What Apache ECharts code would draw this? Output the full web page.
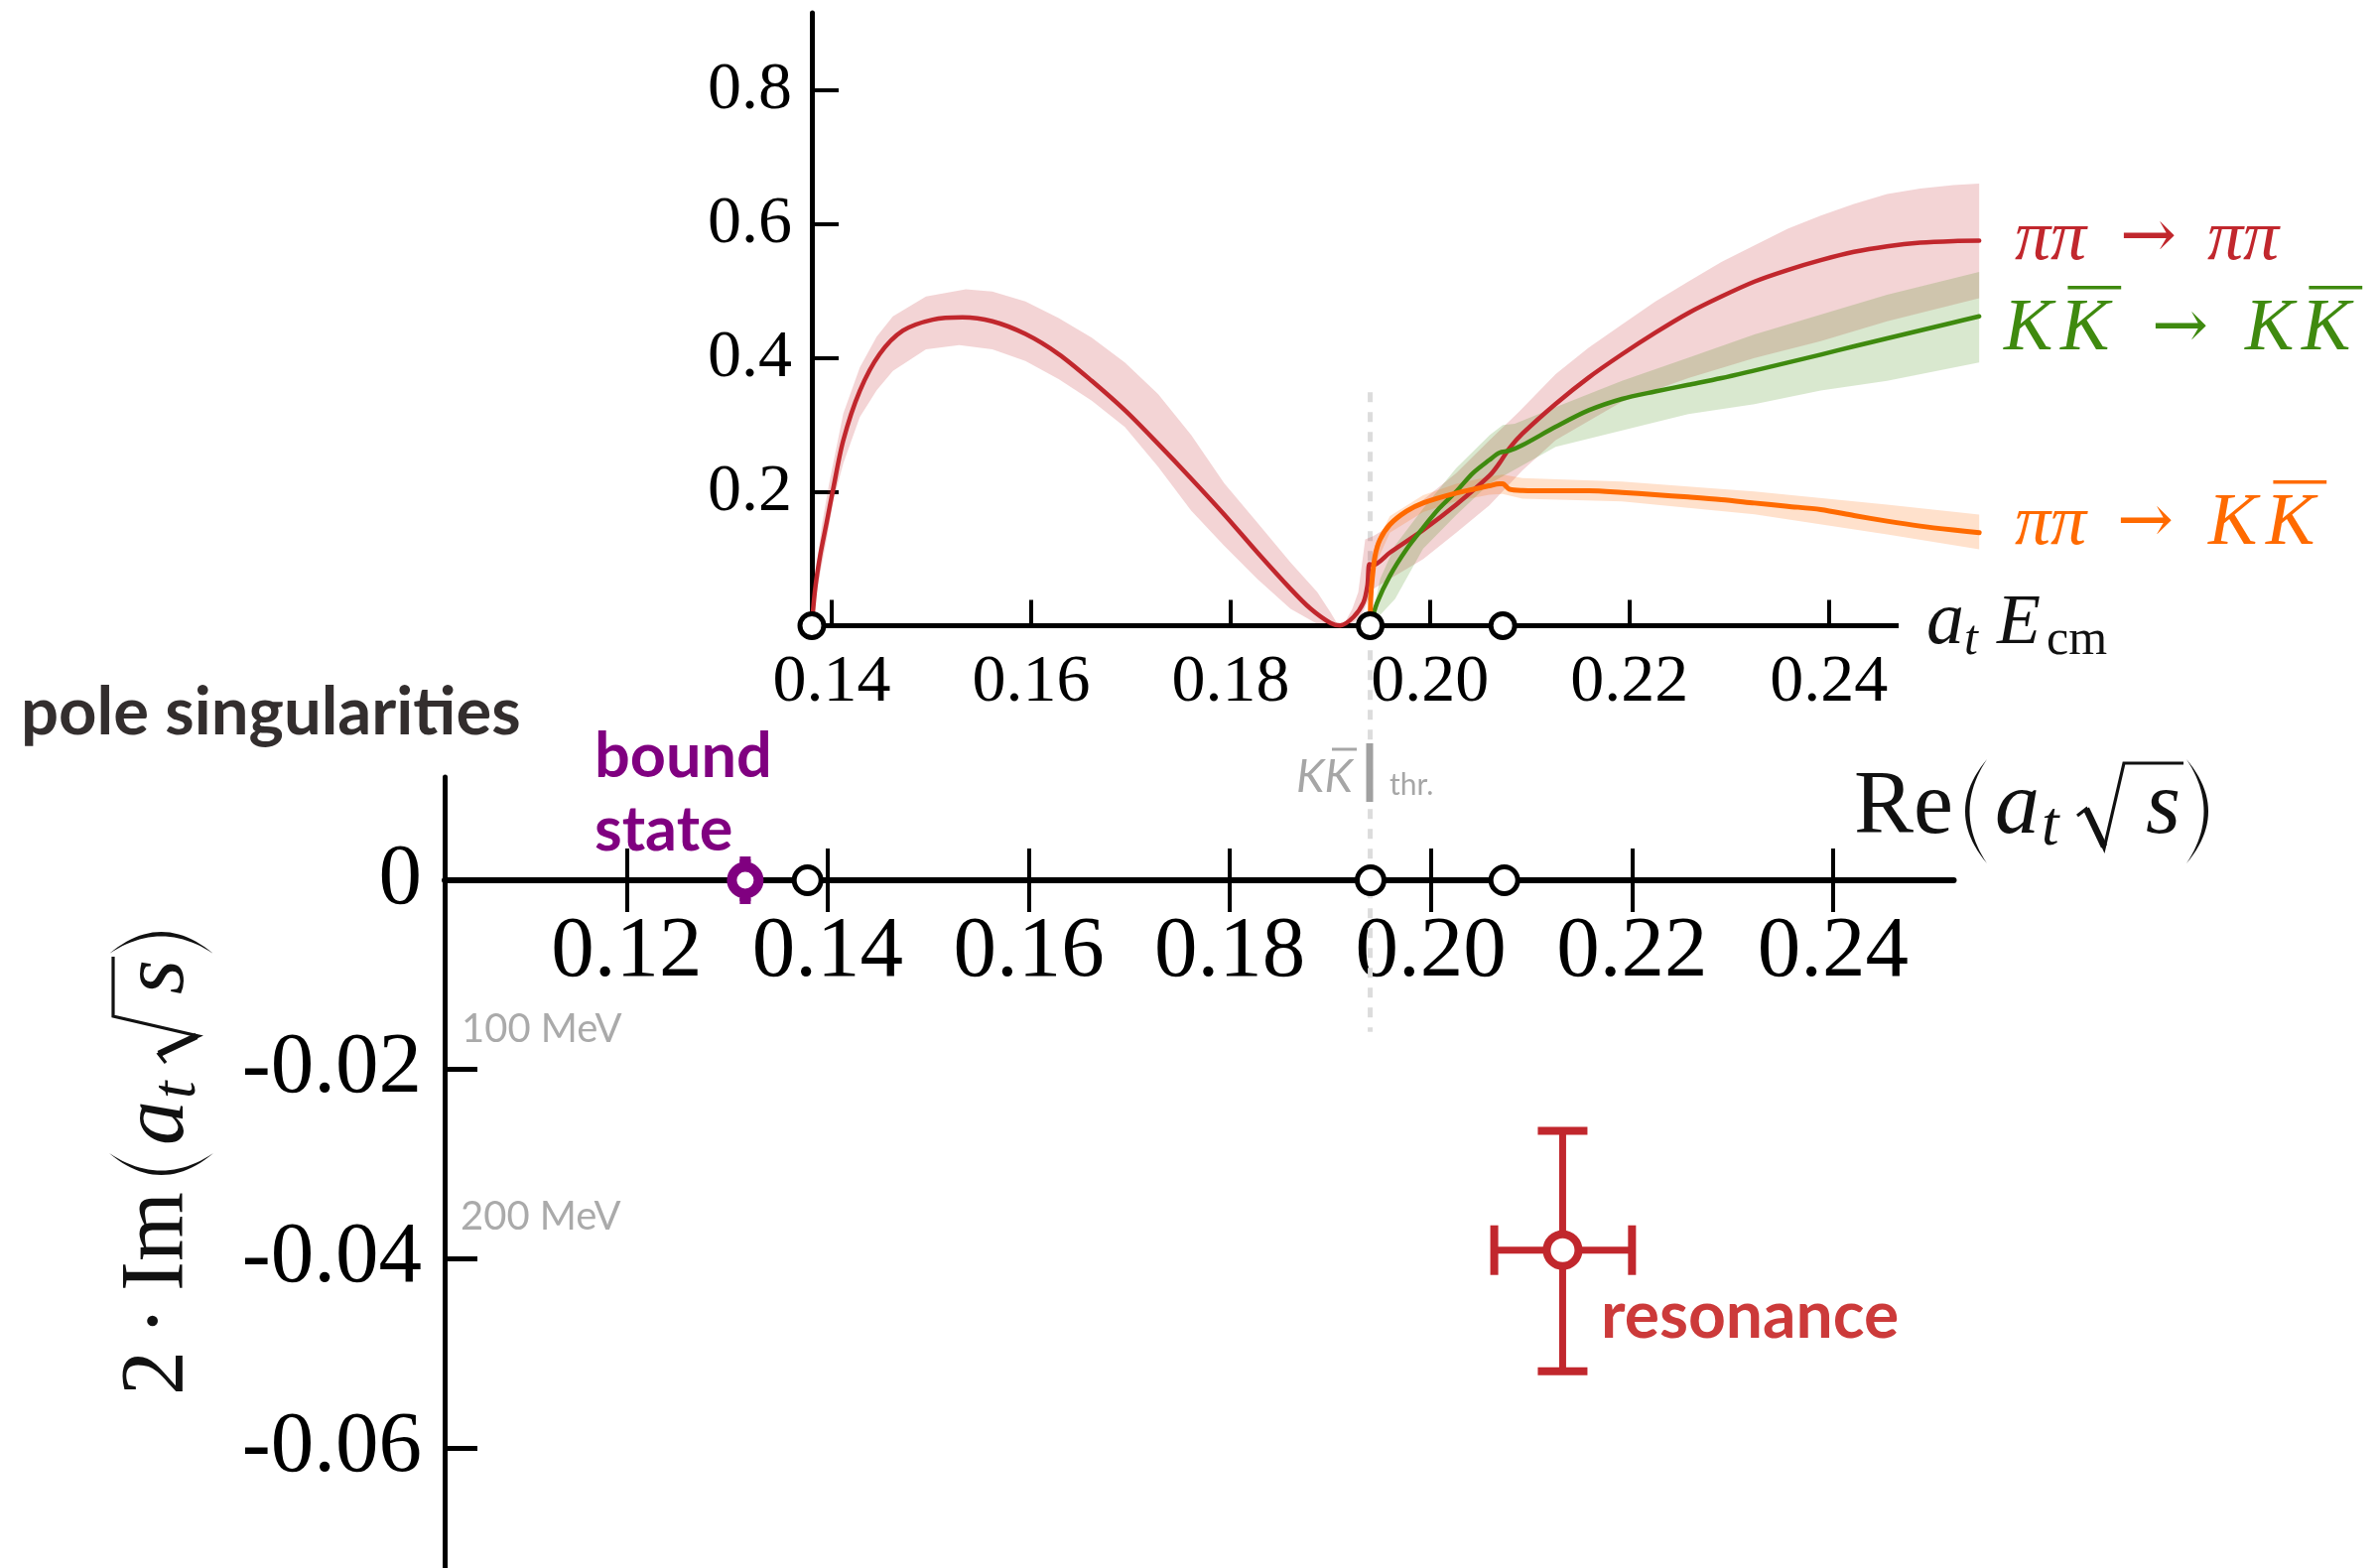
<!DOCTYPE html>
<html>
<head>
<meta charset="utf-8">
<script src="https://cdn.jsdelivr.net/npm/echarts@6/dist/echarts.min.js"></script>
<style>
  html, body { margin: 0; padding: 0; background: #ffffff; }
  #chart { width: 2398px; height: 1580px; }
</style>
</head>
<body>
<div id="chart"></div>
<script>
// ---------------- data ----------------
// Scattering thresholds in lattice units (ππ, KK̄, ηη)
const thresholds = [0.1380, 0.1940, 0.2073];
const kkThreshold = 0.1940;

// Axis ticks
const topXTicks = [0.14, 0.16, 0.18, 0.20, 0.22, 0.24];
const topYTicks = [0.2, 0.4, 0.6, 0.8];
const poleXTicks = [0.12, 0.14, 0.16, 0.18, 0.20, 0.22, 0.24];
const poleYTicks = [-0.06, -0.04, -0.02, 0];

// ππ → ππ : central curve and uncertainty band edges
const pipiCurve = [
  [0.13799, 0.000], [0.13833, 0.055], [0.13882, 0.104], [0.13948, 0.154], [0.14008, 0.200],
  [0.14115, 0.277], [0.14281, 0.351], [0.14480, 0.406], [0.14713, 0.441], [0.15012, 0.4575],
  [0.15310, 0.461], [0.15610, 0.455], [0.15942, 0.436], [0.16275, 0.406], [0.16607, 0.366],
  [0.16940, 0.322], [0.17272, 0.272], [0.17604, 0.220], [0.17936, 0.1662], [0.18269, 0.1094],
  [0.18601, 0.0551], [0.18801, 0.0255], [0.19000, 0.0042], [0.19100, 0.0005], [0.19232, 0.013],
  [0.19332, 0.0346], [0.19372, 0.060], [0.19392, 0.0921], [0.19426, 0.0906], [0.19598, 0.1094],
  [0.19930, 0.143], [0.20263, 0.181], [0.20595, 0.224], [0.20695, 0.2427], [0.20795, 0.265],
  [0.20927, 0.2871], [0.21260, 0.3316], [0.21592, 0.3711], [0.21925, 0.4057], [0.22257, 0.4378],
  [0.22590, 0.4674], [0.22922, 0.4921], [0.23254, 0.5144], [0.23587, 0.5317], [0.23919, 0.5464],
  [0.24252, 0.5588], [0.24584, 0.5671], [0.24916, 0.5726], [0.25249, 0.5750], [0.25508, 0.5755]
];
const pipiUpper = [
  [0.13799, 0], [0.13833, 0.07], [0.1390, 0.15], [0.1397, 0.21], [0.14115, 0.317], [0.14281, 0.386],
  [0.14450, 0.432], [0.14613, 0.4625], [0.14945, 0.492], [0.15344, 0.503], [0.1561, 0.4995], [0.15942, 0.4847],
  [0.16275, 0.460], [0.16607, 0.4304], [0.16939, 0.3933], [0.17272, 0.3464], [0.17604, 0.285],
  [0.17936, 0.213], [0.18269, 0.1539], [0.18601, 0.0946], [0.18868, 0.0504], [0.1900, 0.0205],
  [0.1907, 0.003], [0.1915, 0.006], [0.1922, 0.0254], [0.1928, 0.05], [0.1935, 0.129],
  [0.1943, 0.134], [0.19598, 0.149], [0.1993, 0.188], [0.20263, 0.228], [0.20595, 0.277],
  [0.20894, 0.320], [0.2126, 0.376], [0.21592, 0.4156], [0.21925, 0.4502], [0.22257, 0.4844],
  [0.2259, 0.5144], [0.22922, 0.5437], [0.23254, 0.5686], [0.23587, 0.5933], [0.23919, 0.6131],
  [0.24252, 0.6304], [0.24584, 0.6452], [0.24916, 0.6536], [0.25249, 0.6585], [0.25508, 0.661]
];
const pipiLower = [
  [0.13799, 0], [0.1386, 0.06], [0.1395, 0.13], [0.1402, 0.19], [0.14115, 0.2427], [0.14281, 0.3119],
  [0.14450, 0.352], [0.14613, 0.381], [0.14945, 0.4131], [0.15278, 0.4195], [0.1561, 0.4131], [0.15942, 0.3958],
  [0.16275, 0.3686], [0.16607, 0.3365], [0.16939, 0.297], [0.17272, 0.2378], [0.17604, 0.172],
  [0.17936, 0.1193], [0.18269, 0.0698], [0.18601, 0.0254], [0.1887, 0.0025], [0.1907, 0],
  [0.1920, 0.002], [0.1930, 0.012], [0.19372, 0.035], [0.1943, 0.0549], [0.19598, 0.070],
  [0.1993, 0.0995], [0.20263, 0.139], [0.20595, 0.180], [0.20927, 0.232], [0.2126, 0.2773],
  [0.21925, 0.335], [0.2259, 0.370], [0.23254, 0.400], [0.23919, 0.4254], [0.24584, 0.455],
  [0.25508, 0.4896]
];

// KK̄ → KK̄
const kkCurve = [
  [0.1940, 0], [0.1947, 0.0346], [0.19598, 0.0748], [0.19764, 0.1143], [0.1993, 0.1464],
  [0.20096, 0.176], [0.20263, 0.2007], [0.20429, 0.2279], [0.20595, 0.2477], [0.20695, 0.2585],
  [0.20795, 0.2615], [0.20927, 0.2699], [0.2126, 0.2973], [0.21592, 0.3220], [0.21925, 0.3390],
  [0.22257, 0.3500], [0.2259, 0.3600], [0.22922, 0.3700], [0.23254, 0.3815], [0.23587, 0.3933],
  [0.23919, 0.4052], [0.24252, 0.4176], [0.24584, 0.4294], [0.24916, 0.4413], [0.25249, 0.4532],
  [0.25508, 0.4625]
];
const kkUpper = [
  [0.1940, 0], [0.1950, 0.07], [0.1965, 0.12], [0.1993, 0.175], [0.2026, 0.235], [0.2060, 0.285],
  [0.2073, 0.300], [0.2085, 0.302], [0.2126, 0.3267], [0.21925, 0.3662], [0.2259, 0.4007],
  [0.23254, 0.4353], [0.23919, 0.465], [0.24584, 0.4946], [0.25508, 0.529]
];
const kkLower = [
  [0.1940, 0], [0.1965, 0.04], [0.1993, 0.115], [0.2026, 0.165], [0.20595, 0.212], [0.2126, 0.2674],
  [0.21925, 0.2919], [0.2259, 0.3163], [0.23254, 0.3311], [0.23919, 0.3514], [0.24584, 0.3659],
  [0.25508, 0.3933]
];

// ππ → KK̄
const pikCurve = [
  [0.1940, 0], [0.19405, 0.04], [0.1942, 0.07], [0.19449, 0.1047], [0.19499, 0.129],
  [0.19598, 0.1513], [0.19764, 0.1711], [0.1993, 0.1835], [0.20263, 0.1983], [0.20595, 0.2091],
  [0.20695, 0.2121], [0.20728, 0.2121], [0.20795, 0.2042], [0.20927, 0.2022], [0.2126, 0.2017],
  [0.21592, 0.2017], [0.21925, 0.1992], [0.22257, 0.1958], [0.2259, 0.1923], [0.22922, 0.1884],
  [0.23254, 0.1834], [0.23587, 0.1785], [0.23919, 0.1736], [0.24252, 0.1647], [0.24584, 0.1563],
  [0.24916, 0.1489], [0.25249, 0.1430], [0.25508, 0.1390]
];
const pikUpper = [
  [0.1940, 0], [0.19449, 0.12], [0.19598, 0.164], [0.1993, 0.195], [0.20263, 0.212], [0.20595, 0.2229],
  [0.20728, 0.226], [0.20927, 0.2205], [0.21925, 0.2155], [0.23254, 0.2007], [0.24584, 0.1811],
  [0.25508, 0.1663]
];
const pikLower = [
  [0.1940, 0], [0.19449, 0.09], [0.19598, 0.139], [0.1993, 0.17], [0.20263, 0.186], [0.20595, 0.1958],
  [0.20728, 0.197], [0.20927, 0.19], [0.21925, 0.1859], [0.23254, 0.1664], [0.24584, 0.1365],
  [0.25508, 0.1144]
];

// Poles in the complex plane: [Re, Im, ReLow, ReHigh, ImLow, ImHigh]
const boundStatePole = [0.1318, 0, 0.1318, 0.1318, -0.0022, 0.0022];
const resonancePole = [0.2131, -0.0391, 0.2063, 0.2200, -0.0519, -0.0265];

// ---------------- styling ----------------
const RED = '#c1272d', GREEN = '#3f8a0f', ORANGE = '#ff6a00', PURPLE = '#800080';
const SERIF = '"Liberation Serif", "Times New Roman", serif';
const SANS = 'Lato, "Open Sans", sans-serif';
const ARROW_FONT = '"DejaVu Serif", serif';
// energy axis: drawn range and the slightly wider plotting range used by the curves
const energyMin = 0.138, energyAxisEnd = 0.247, energyPlotMax = 0.2551;

// ---------------- text helpers ----------------
const mctx = document.createElement('canvas').getContext('2d');
function textWidth(str, font) { mctx.font = font; mctx.textBaseline = 'alphabetic'; return mctx.measureText(str).width; }
function midShift(font) {
  mctx.font = font; mctx.textBaseline = 'middle';
  const d = mctx.measureText('H').actualBoundingBoxDescent;
  mctx.textBaseline = 'alphabetic';
  return d;
}
// text element whose alphabetic baseline sits at `baseline`
function txt(text, x, baseline, font, fill) {
  return {
    type: 'text', silent: true, z: 20,
    style: { text, x, y: baseline - midShift(font), font, fill,
             align: 'left', verticalAlign: 'middle', textAlign: 'left', textVerticalAlign: 'middle' }
  };
}
// sequence of formula pieces, each at its own x
function mathRuns(runs, baseline, size, color) {
  const out = [];
  runs.forEach(r => {
    const s = r.s || size;
    const fam = r.fam || SERIF;
    const font = (r.it ? 'italic ' : '') + s + 'px ' + fam;
    const b = baseline + (r.dy || 0);
    out.push(txt(r.t, r.x, b, font, color));
    if (r.bar) {
      const w = textWidth(r.t, font);
      const y = b - s * 0.84;
      out.push({ type: 'line', silent: true, z: 20,
        shape: { x1: r.x + s * 0.10, y1: y, x2: r.x + w + s * 0.16, y2: y },
        style: { stroke: color, lineWidth: Math.max(2.5, s * 0.048) } });
    }
  });
  return out;
}
// tall thin parenthesis drawn as a crescent between the tip line and the bulge
function paren(xTip, xBulge, top, bot, thick, color) {
  const mid = (top + bot) / 2, pts = [];
  const quad = (p0, c, p2, t) => (1 - t) * (1 - t) * p0 + 2 * (1 - t) * t * c + t * t * p2;
  const dir = Math.sign(xBulge - xTip);
  const cOut = 2 * xBulge - xTip, cIn = 2 * (xBulge - dir * thick) - xTip;
  for (let i = 0; i <= 24; i++) { const t = i / 24; pts.push([quad(xTip, cOut, xTip, t), quad(top, mid, bot, t)]); }
  for (let i = 24; i >= 0; i--) { const t = i / 24; pts.push([quad(xTip, cIn, xTip, t), quad(top, mid, bot, t)]); }
  return { type: 'polygon', silent: true, z: 20, shape: { points: pts }, style: { fill: color } };
}
// "(a_t √s)" starting at paren position x0, baseline b
function atSqrtS(x0, b, color) {
  const els = mathRuns([
    { t: 'a', x: x0 + 32, it: 1 },
    { t: 't', x: x0 + 79, it: 1, s: 63, dy: 12 },
    { t: 's', x: x0 + 184, it: 1 }
  ], b, 90, color);
  els.push(paren(x0 + 24, x0 + 2, b - 74, b + 31, 4.5, color));
  els.push(paren(x0 + 225, x0 + 247, b - 74, b + 31, 4.5, color));
  const r = x0 + 115;
  els.push({ type: 'polyline', silent: true, z: 20,
    shape: { points: [[r, b - 17], [r + 9, b - 24], [r + 27, b + 16], [r + 47, b - 70], [r + 107, b - 70]] },
    style: { stroke: color, lineWidth: 3.2, fill: null, lineJoin: 'miter' } });
  els.push({ type: 'line', silent: true, z: 20,
    shape: { x1: r + 9, y1: b - 24, x2: r + 27, y2: b + 14 },
    style: { stroke: color, lineWidth: 6.5 } });
  return els;
}

// ---------------- series builders ----------------
function bandSeries(upper, lower, fill) {
  const poly = upper.concat(lower.slice().reverse());
  return {
    type: 'custom', coordinateSystem: 'cartesian2d', xAxisIndex: 0, yAxisIndex: 0,
    clip: false, silent: true, z: 1, data: poly,
    renderItem(params, api) {
      if (params.dataIndex !== 0) return null;
      return { type: 'polygon', shape: { points: poly.map(p => api.coord(p)) }, style: { fill } };
    }
  };
}
function curveSeries(data, color, width, z) {
  return {
    type: 'line', xAxisIndex: 0, yAxisIndex: 0, data, showSymbol: false, clip: false,
    smooth: 0.3, silent: true, z,
    lineStyle: { color, width, join: 'round', cap: 'round' }
  };
}
function poleSeries(pole, color, opt) {
  return {
    type: 'custom', coordinateSystem: 'cartesian2d', xAxisIndex: 2, yAxisIndex: 2,
    clip: false, silent: true, z: 6, data: [pole],
    renderItem(params, api) {
      const c = api.coord([api.value(0), api.value(1)]);
      const l = api.coord([api.value(2), api.value(1)]);
      const rr = api.coord([api.value(3), api.value(1)]);
      const lo = api.coord([api.value(0), api.value(4)]);
      const hi = api.coord([api.value(0), api.value(5)]);
      const ch = [];
      if (rr[0] - l[0] > 1) {
        ch.push({ type: 'line', shape: { x1: l[0], y1: c[1], x2: rr[0], y2: c[1] }, style: { stroke: color, lineWidth: opt.stem } });
        ch.push({ type: 'rect', shape: { x: l[0] - opt.capT / 2, y: c[1] - opt.capW / 2, width: opt.capT, height: opt.capW }, style: { fill: color } });
        ch.push({ type: 'rect', shape: { x: rr[0] - opt.capT / 2, y: c[1] - opt.capW / 2, width: opt.capT, height: opt.capW }, style: { fill: color } });
      }
      ch.push({ type: 'line', shape: { x1: c[0], y1: hi[1], x2: c[0], y2: lo[1] }, style: { stroke: color, lineWidth: opt.stem } });
      ch.push({ type: 'rect', shape: { x: c[0] - opt.capW / 2, y: hi[1] - opt.capT / 2, width: opt.capW, height: opt.capT }, style: { fill: color } });
      ch.push({ type: 'rect', shape: { x: c[0] - opt.capW / 2, y: lo[1] - opt.capT / 2, width: opt.capW, height: opt.capT }, style: { fill: color } });
      ch.push({ type: 'circle', shape: { cx: c[0], cy: c[1], r: opt.r }, style: { fill: '#ffffff', stroke: color, lineWidth: opt.ring } });
      return { type: 'group', children: ch };
    }
  };
}

// ---------------- annotations ----------------
const graphics = [];
// upper axis name  a_t E_cm
graphics.push(...mathRuns([
  { t: 'a', x: 1941, it: 1, s: 76 }, { t: 't', x: 1979, it: 1, s: 50, dy: 11 },
  { t: 'E', x: 2012, it: 1 }, { t: 'cm', x: 2062, s: 50, dy: 11 }
], 648, 72, '#111'));
// channel labels
graphics.push(...mathRuns([
  { t: 'ππ', x: 2030, it: 1, s: 72 }, { t: '→', x: 2136, fam: ARROW_FONT, s: 68, dy: -2 }, { t: 'ππ', x: 2224, it: 1, s: 72 }
], 261, 70, RED));
graphics.push(...mathRuns([
  { t: 'K', x: 2019, it: 1 }, { t: 'K', x: 2076, it: 1, bar: 1 }, { t: '→', x: 2168, fam: ARROW_FONT, s: 68, dy: -2 },
  { t: 'K', x: 2262, it: 1 }, { t: 'K', x: 2319, it: 1, bar: 1 }
], 352, 74, GREEN));
graphics.push(...mathRuns([
  { t: 'ππ', x: 2030, it: 1, s: 72 }, { t: '→', x: 2133, fam: ARROW_FONT, s: 68, dy: -2 },
  { t: 'K', x: 2225, it: 1 }, { t: 'K', x: 2283, it: 1, bar: 1 }
], 548, 74, ORANGE));
// lower axis name  Re(a_t √s)
graphics.push(txt('Re', 1868, 839, '90px ' + SERIF, '#111'));
graphics.push(...atSqrtS(1978, 839, '#111'));
// vertical axis name  2·Im(a_t √s)
graphics.push({
  type: 'group', x: 184, y: 1406, rotation: Math.PI / 2, silent: true, z: 20,
  children: [
    txt('2', 0, 0, '90px ' + SERIF, '#111'),
    txt('·', 60, 0, '90px ' + SERIF, '#111'),
    txt('Im', 105, 0, '90px ' + SERIF, '#111'),
    ...atSqrtS(220, 0, '#111')
  ]
});
// panel captions
graphics.push(txt('pole singularities', 21, 740, 'bold 67px ' + SANS, '#332e2e'));
graphics.push(txt('bound', 599, 783, 'bold 63px ' + SANS, PURPLE));
graphics.push(txt('state', 599, 857, 'bold 63px ' + SANS, PURPLE));
graphics.push(txt('resonance', 1613, 1348, 'bold 66px ' + SANS, '#cc3a3a'));
graphics.push(txt('100 MeV', 465, 1050, '40px ' + SANS, '#aaaaaa'));
graphics.push(txt('200 MeV', 464, 1239, '40px ' + SANS, '#aaaaaa'));
// KK̄ threshold tag
graphics.push(txt('KK', 1306, 798, 'italic 46px ' + SANS, '#a6a6a6'));
graphics.push({ type: 'line', silent: true, z: 20, shape: { x1: 1342, y1: 755, x2: 1367, y2: 755 }, style: { stroke: '#a6a6a6', lineWidth: 3 } });
graphics.push({ type: 'rect', silent: true, z: 20, shape: { x: 1376.5, y: 749, width: 7, height: 59 }, style: { fill: '#a0a0a0' } });
graphics.push(txt('thr.', 1400, 801, '30px ' + SANS, '#a6a6a6'));

// ---------------- chart ----------------
const chart = echarts.init(document.getElementById('chart'), null, { renderer: 'canvas', width: 2398, height: 1580 });

const tickLabel = (size) => ({ color: '#000', fontFamily: SERIF, fontSize: size });
const poleXMin = 0.1019, poleXMax = 0.252;
const pxPerEnergy = 1095 / (energyAxisEnd - energyMin);

chart.setOption({
  animation: false,
  backgroundColor: '#ffffff',
  grid: [
    // amplitude panel (extends a little past the drawn axis so the curves can run on)
    { left: 818, top: 13, width: pxPerEnergy * (energyPlotMax - energyMin), height: 617.5, outerBoundsMode: 'none', containLabel: false },
    // pole panel, part above the real axis
    { left: 448, top: 783, width: 1520.5, height: 104, outerBoundsMode: 'none', containLabel: false },
    // pole panel, part below the real axis
    { left: 448, top: 887, width: 1520.5, height: 693, outerBoundsMode: 'none', containLabel: false }
  ],
  xAxis: [
    {
      gridIndex: 0, type: 'value', min: energyMin, max: energyPlotMax, position: 'bottom',
      axisLine: { show: false, onZero: false },
      axisTick: { show: true, inside: true, length: 26, customValues: topXTicks, lineStyle: { color: '#000', width: 4 } },
      axisLabel: Object.assign({ show: true, margin: 24, interval: 0, customValues: topXTicks, formatter: v => v.toFixed(2) }, tickLabel(68)),
      splitLine: { show: false }
    },
    {
      gridIndex: 1, type: 'value', min: poleXMin, max: poleXMax, position: 'bottom',
      axisLine: { show: true, onZero: false, lineStyle: { color: '#000', width: 6 } },
      axisTick: { show: true, inside: true, length: 32, customValues: poleXTicks, lineStyle: { color: '#000', width: 4 } },
      axisLabel: { show: false },
      splitLine: { show: false }
    },
    {
      gridIndex: 2, type: 'value', min: poleXMin, max: poleXMax, position: 'top',
      axisLine: { show: false, onZero: false },
      axisTick: { show: true, inside: true, length: 32, customValues: poleXTicks, lineStyle: { color: '#000', width: 4 } },
      axisLabel: Object.assign({ show: true, inside: true, margin: 30, interval: 0, customValues: poleXTicks, formatter: v => v.toFixed(2) }, tickLabel(87)),
      splitLine: { show: false }
    }
  ],
  yAxis: [
    {
      gridIndex: 0, type: 'value', min: 0, max: 0.916, position: 'left',
      axisLine: { show: true, onZero: false, lineStyle: { color: '#000', width: 5 } },
      axisTick: { show: true, inside: true, length: 27, customValues: topYTicks, lineStyle: { color: '#000', width: 4 } },
      axisLabel: Object.assign({ show: true, margin: 20, customValues: topYTicks, formatter: v => v.toFixed(1) }, tickLabel(68)),
      splitLine: { show: false }
    },
    {
      gridIndex: 1, type: 'value', min: 0, max: 0.0109, position: 'left',
      axisLine: { show: true, onZero: false, lineStyle: { color: '#000', width: 5 } },
      axisTick: { show: false }, axisLabel: { show: false }, splitLine: { show: false }
    },
    {
      gridIndex: 2, type: 'value', min: -0.0727, max: 0, position: 'left',
      axisLine: { show: true, onZero: false, lineStyle: { color: '#000', width: 5 } },
      axisTick: { show: true, inside: true, length: 33, customValues: poleYTicks, lineStyle: { color: '#000', width: 5 } },
      axisLabel: Object.assign({ show: true, margin: 23, customValues: poleYTicks, formatter: v => (v === 0 ? '0' : v.toFixed(2)) }, tickLabel(87)),
      splitLine: { show: false }
    }
  ],
  series: [
    // KK̄ threshold guide across both panels
    {
      type: 'line', xAxisIndex: 0, yAxisIndex: 0, clip: false, silent: true, z: 0, showSymbol: false,
      data: [[kkThreshold, 0.349], [kkThreshold, -0.607]],
      lineStyle: { color: '#dcdcdc', width: 5, type: [10, 10] }
    },
    // energy axis line, drawn only over the labelled range
    {
      type: 'line', xAxisIndex: 0, yAxisIndex: 0, clip: false, silent: true, z: 2, showSymbol: false,
      data: [[energyMin, 0], [energyAxisEnd, 0]],
      lineStyle: { color: '#000', width: 5, cap: 'butt' }
    },
    bandSeries(pipiUpper, pipiLower, 'rgba(193,39,45,0.2)'),
    bandSeries(kkUpper, kkLower, 'rgba(63,138,15,0.2)'),
    bandSeries(pikUpper, pikLower, 'rgba(255,106,0,0.2)'),
    curveSeries(pipiCurve, RED, 4.5, 3),
    curveSeries(kkCurve, GREEN, 4.5, 4),
    curveSeries(pikCurve, ORANGE, 5, 5),
    {
      type: 'scatter', xAxisIndex: 0, yAxisIndex: 0, clip: false, silent: true, z: 8,
      data: thresholds.map(x => [x, 0]), symbol: 'circle', symbolSize: 24,
      itemStyle: { color: '#ffffff', borderColor: '#000', borderWidth: 5, opacity: 1 }
    },
    {
      type: 'scatter', xAxisIndex: 2, yAxisIndex: 2, clip: false, silent: true, z: 8,
      data: thresholds.map(x => [x, 0]), symbol: 'circle', symbolSize: 27,
      itemStyle: { color: '#ffffff', borderColor: '#000', borderWidth: 5, opacity: 1 }
    },
    poleSeries(boundStatePole, PURPLE, { stem: 11, capW: 11, capT: 6, r: 13.5, ring: 10 }),
    poleSeries(resonancePole, RED, { stem: 7, capW: 50, capT: 8, r: 16, ring: 8 })
  ],
  graphic: { elements: graphics }
});
</script>
</body>
</html>
